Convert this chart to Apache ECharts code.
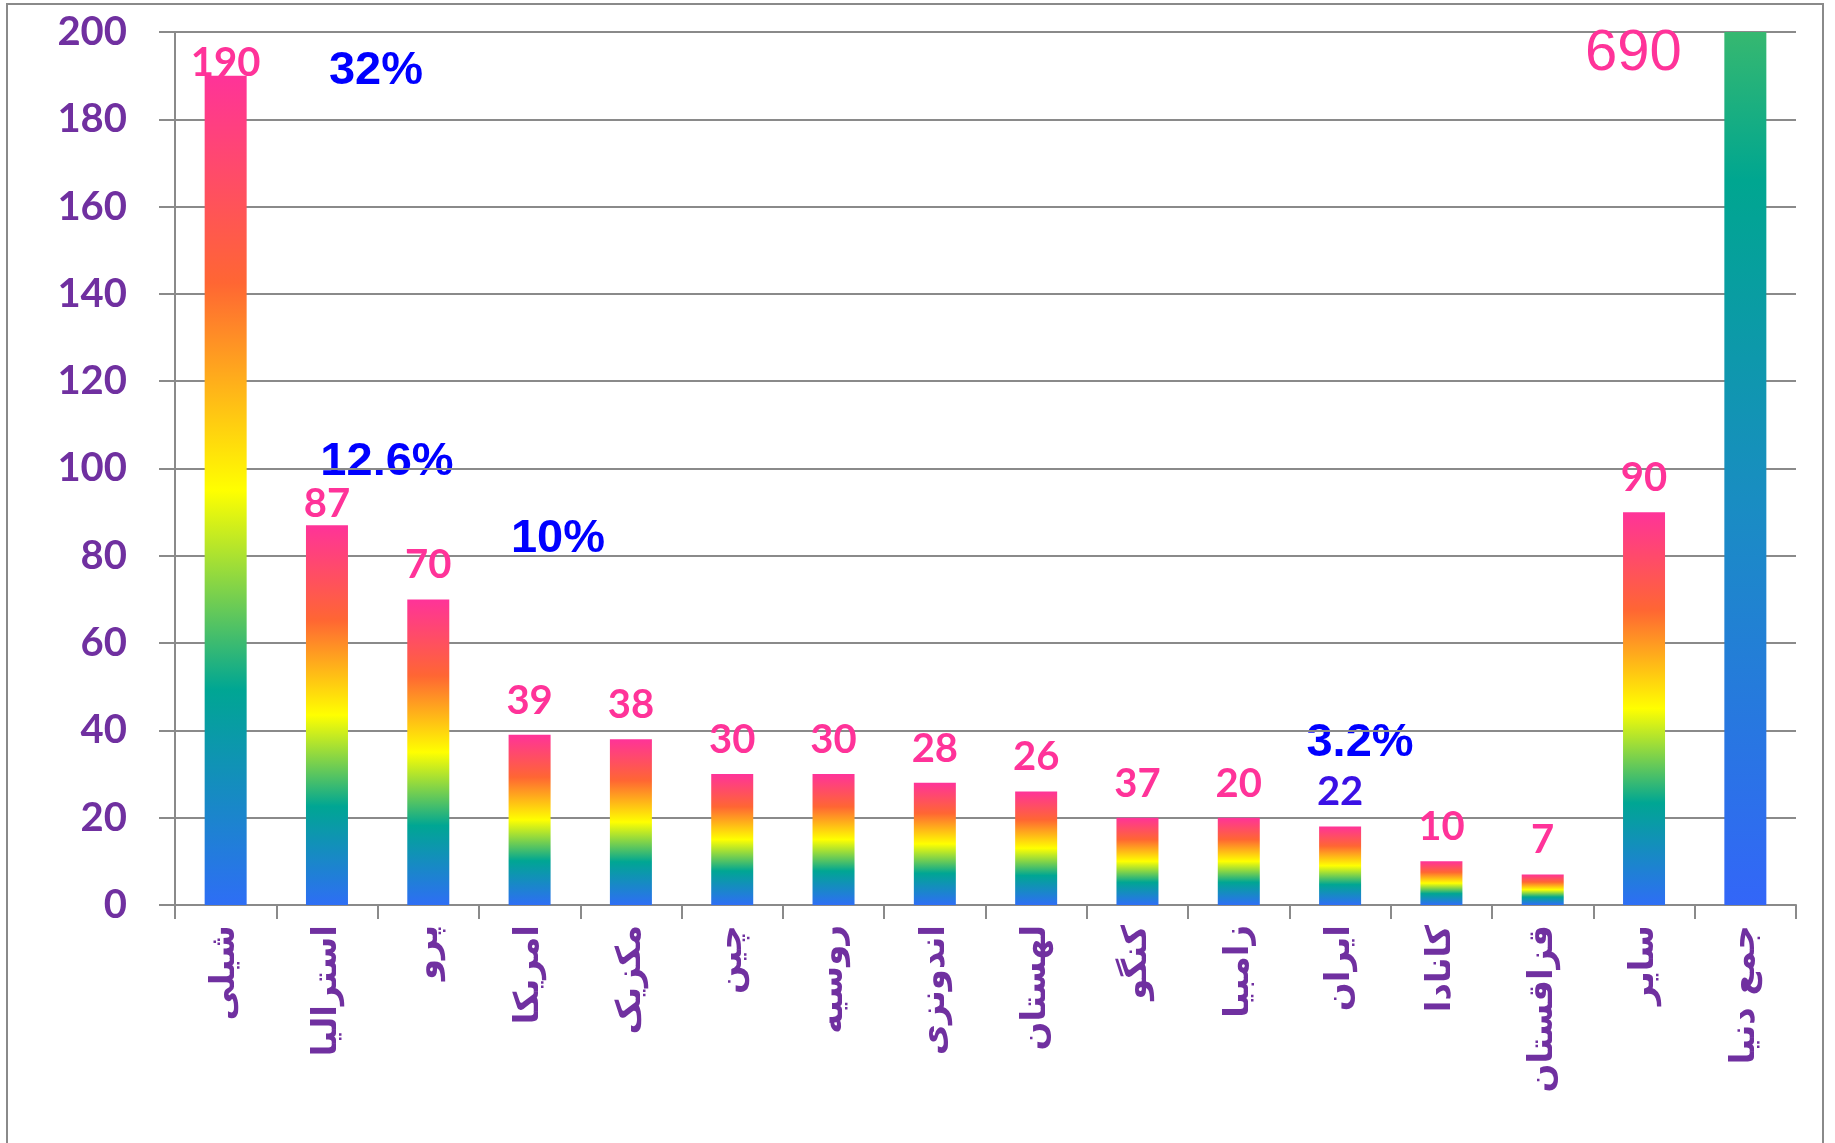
<!DOCTYPE html>
<html>
<head>
<meta charset="utf-8">
<title>تولید مس</title>
<script src="https://cdn.jsdelivr.net/npm/echarts@6/dist/echarts.min.js"></script>
<style>
  html, body { margin: 0; padding: 0; background: #fff; }
  #chart { width: 1835px; height: 1143px; }
</style>
</head>
<body>
<div id="chart"></div>
<script>
// کشورها و مقادیر
const countries = ['شیلی', 'استرالیا', 'پرو', 'امریکا', 'مکزیک', 'چین', 'روسیه', 'اندونزی',
  'لهستان', 'کنگو', 'زامبیا', 'ایران', 'کانادا', 'قزاقستان', 'سایر', 'جمع دنیا'];
const barValues = [190, 87, 70, 39, 38, 30, 30, 28, 26, 20, 20, 18, 10, 7, 90, 690];
const labelValues = [190, 87, 70, 39, 38, 30, 30, 28, 26, 37, 20, 22, 10, 7, 90, 690];
const shareTexts = ['32%', '12.6%', '10%', '3.2%'];
const yMin = 0, yMax = 200, yStep = 20;

const chart = echarts.init(document.getElementById('chart'));

const rainbow = () => new echarts.graphic.LinearGradient(0, 0, 0, 1, [
  { offset: 0, color: '#FF3399' },
  { offset: 0.25, color: '#FF6633' },
  { offset: 0.5, color: '#FFFF00' },
  { offset: 0.74, color: '#00A693' },
  { offset: 1, color: '#2E6EF5' }
]);
// ستون جمع دنیا بریده شده است، فقط پایین طیف دیده می‌شود
const worldGradient = new echarts.graphic.LinearGradient(0, 0, 0, 1, [
  { offset: 0, color: '#36B870' },
  { offset: 0.17, color: '#00A690' },
  { offset: 0.55, color: '#1A8CC4' },
  { offset: 1, color: '#3366F8' }
]);

const seriesData = barValues.map((v, i) => {
  const item = { value: v, itemStyle: { color: i === 15 ? worldGradient : rainbow() } };
  if (i === 0) item.label = { distance: -7 };
  if (i === 1) item.label = { distance: 1 };
  if (i === 11) item.label = { color: '#3A10E5' };
  if (i === 15) item.label = {
    fontFamily: '"Liberation Sans Narrow", "Liberation Sans", sans-serif',
    fontWeight: 'normal', fontSize: 58, distance: 0, offset: [-112, 51]
  };
  return item;
});

const shareStyle = (text, x, y) => ({
  type: 'text', x: x, y: y,
  style: {
    text: text, fill: '#0000FF', align: 'center', verticalAlign: 'middle',
    font: 'bold 47px "Liberation Sans", Arial, sans-serif'
  }
});

chart.setOption({
  backgroundColor: '#fff',
  animation: false,
  grid: { left: 175, right: 39, top: 32, bottom: 238 },
  xAxis: {
    type: 'category',
    data: countries,
    axisLine: { lineStyle: { color: '#8a8a8a', width: 2 } },
    axisTick: { show: true, length: 14, lineStyle: { color: '#8a8a8a', width: 2 } },
    axisLabel: {
      rotate: 90, interval: 0, margin: 20,
      color: '#7030A0', fontSize: 34, fontWeight: 'bold',
      fontFamily: '"DejaVu Sans", sans-serif'
    }
  },
  yAxis: {
    type: 'value',
    min: yMin, max: yMax, interval: yStep,
    axisLine: { show: true, lineStyle: { color: '#8a8a8a', width: 2 } },
    axisTick: { show: true, inside: false, length: 16, lineStyle: { color: '#8a8a8a', width: 2 } },
    splitLine: { lineStyle: { color: '#8a8a8a', width: 2 } },
    axisLabel: {
      margin: 48, color: '#7030A0', fontSize: 40, fontWeight: 'bold',
      fontFamily: 'Lato, "Open Sans", sans-serif'
    }
  },
  series: [{
    type: 'bar',
    data: seriesData,
    barWidth: 42,
    clip: true,
    label: {
      show: true, position: 'top', distance: 14,
      color: '#FF3399', fontSize: 40, fontWeight: 'bold',
      fontFamily: 'Lato, "Open Sans", sans-serif',
      formatter: p => String(labelValues[p.dataIndex])
    }
  }],
  graphic: [
    {
      type: 'rect', shape: { x: 7, y: 4, width: 1816, height: 1180 },
      style: { fill: 'none', stroke: '#8a8a8a', lineWidth: 2 }, silent: true
    },
    shareStyle(shareTexts[0], 376, 71),
    shareStyle(shareTexts[1], 387, 462),
    shareStyle(shareTexts[2], 558, 539),
    shareStyle(shareTexts[3], 1360, 743)
  ]
});
</script>
</body>
</html>
